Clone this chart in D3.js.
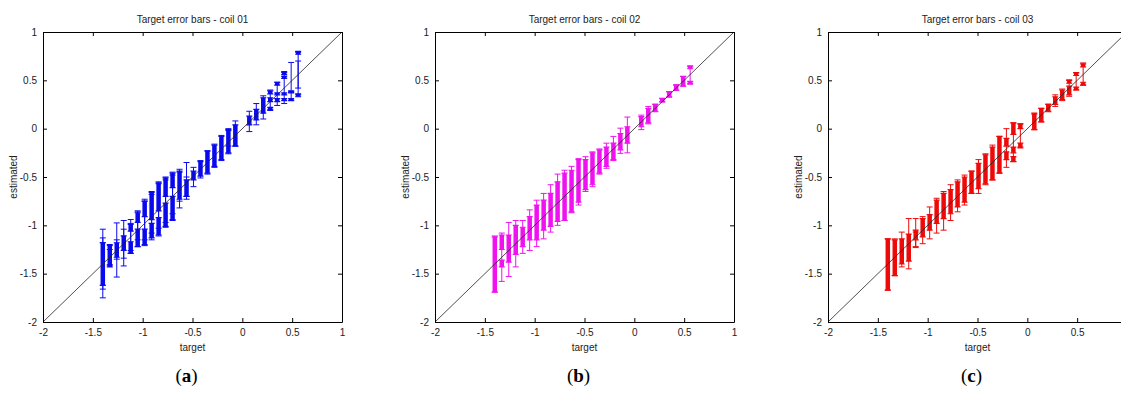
<!DOCTYPE html>
<html>
<head>
<meta charset="utf-8">
<script src="https://cdn.jsdelivr.net/npm/d3@7"></script>
<style>
    body { margin: 0; background: #fff; }
    svg { display: block; }
    .tick text, .axis-label, .panel-title {
        font-family: "Liberation Sans Narrow", "Liberation Sans", Arial, sans-serif;
        fill: #222;
    }
    .tick text { font-size: 10px; }
    .caption { font-family: "Liberation Serif", "DejaVu Serif", serif; font-size: 19px; fill: #000; }
</style>
</head>
<body>
<div id="chart"></div>
<script>
const titles = ["Target error bars - coil 01", "Target error bars - coil 02", "Target error bars - coil 03"];
const captions = ["a", "b", "c"];
const colors = ["#0a0aee", "#f012f0", "#ee0a0a"];
const ticks = [-2, -1.5, -1, -0.5, 0, 0.5, 1];

// bands: [target, low, high] — dense clusters of estimates
// bars:  [target, estimate, error]
const coil01Bands = [
    [-1.40, -1.62, -1.18], [-1.33, -1.43, -1.20], [-1.26, -1.33, -1.18], [-1.19, -1.26, -1.11],
    [-1.12, -1.06, -0.99], [-1.12, -1.29, -1.17], [-1.05, -0.97, -0.87], [-1.05, -1.22, -1.04],
    [-0.98, -0.91, -0.75], [-0.98, -1.20, -1.04], [-0.91, -0.94, -0.66], [-0.91, -1.13, -0.98],
    [-0.84, -0.85, -0.56], [-0.84, -1.10, -0.92], [-0.77, -0.70, -0.51], [-0.77, -1.01, -0.77],
    [-0.70, -0.61, -0.46], [-0.70, -0.94, -0.70], [-0.63, -0.73, -0.44], [-0.56, -0.70, -0.53],
    [-0.49, -0.53, -0.44], [-0.42, -0.49, -0.34], [-0.35, -0.46, -0.23], [-0.28, -0.39, -0.17],
    [-0.21, -0.32, -0.08], [-0.14, -0.25, -0.01], [-0.07, -0.18, 0.04], [0.07, 0.04, 0.13],
    [0.14, 0.09, 0.20], [0.21, 0.16, 0.32], [0.28, 0.19, 0.22], [0.28, 0.28, 0.32],
    [0.28, 0.36, 0.39], [0.35, 0.28, 0.31], [0.35, 0.35, 0.37], [0.35, 0.45, 0.48],
    [0.42, 0.29, 0.31], [0.42, 0.35, 0.37], [0.42, 0.52, 0.54], [0.42, 0.56, 0.59],
    [0.49, 0.29, 0.31], [0.49, 0.37, 0.39], [0.56, 0.33, 0.36], [0.56, 0.77, 0.80]
];
const coil01Bars = [
    [-1.40, -1.395, 0.355], [-1.40, -1.395, 0.265], [-1.40, -1.40, 0.22],
    [-1.33, -1.31, 0.10], [-1.33, -1.33, 0.08], [-1.26, -1.255, 0.28], [-1.26, -1.25, 0.10],
    [-1.19, -1.185, 0.235], [-1.19, -1.19, 0.15], [-1.12, -1.115, 0.175], [-1.12, -1.12, 0.14],
    [-1.05, -1.04, 0.18], [-1.05, -1.00, 0.15], [-0.98, -0.97, 0.24], [-0.98, -0.95, 0.20],
    [-0.91, -0.90, 0.25], [-0.91, -0.88, 0.20], [-0.84, -0.83, 0.28], [-0.84, -0.80, 0.23],
    [-0.77, -0.76, 0.26], [-0.77, -0.75, 0.22], [-0.70, -0.70, 0.25], [-0.70, -0.68, 0.20],
    [-0.63, -0.62, 0.20], [-0.63, -0.60, 0.15], [-0.56, -0.54, 0.19], [-0.56, -0.60, 0.10],
    [-0.49, -0.50, 0.10], [-0.42, -0.42, 0.09], [-0.35, -0.35, 0.12], [-0.28, -0.28, 0.12],
    [-0.21, -0.20, 0.13], [-0.14, -0.13, 0.13], [-0.14, -0.10, 0.08], [-0.07, -0.05, 0.13],
    [0.07, 0.075, 0.105], [0.14, 0.15, 0.11], [0.21, 0.22, 0.12], [0.28, 0.30, 0.10],
    [0.35, 0.36, 0.12], [0.42, 0.42, 0.16], [0.49, 0.53, 0.155], [0.49, 0.34, 0.045],
    [0.56, 0.57, 0.22], [0.56, 0.56, 0.14]
];

const coil02Bands = [
    [-1.40, -1.69, -1.12], [-1.33, -1.25, -1.10], [-1.33, -1.43, -1.36], [-1.26, -1.38, -1.10],
    [-1.19, -1.30, -1.00], [-1.12, -1.22, -1.02], [-1.05, -1.15, -0.91], [-0.98, -1.15, -0.79],
    [-0.91, -1.05, -0.74], [-0.84, -1.01, -0.67], [-0.77, -0.96, -0.55], [-0.70, -0.95, -0.46],
    [-0.63, -0.86, -0.43], [-0.56, -0.76, -0.32], [-0.49, -0.63, -0.32], [-0.42, -0.58, -0.25],
    [-0.35, -0.46, -0.22], [-0.28, -0.39, -0.19], [-0.21, -0.32, -0.15], [-0.14, -0.22, -0.05],
    [-0.07, -0.15, 0.02], [0.07, 0.02, 0.125], [0.14, 0.06, 0.21], [0.21, 0.18, 0.25],
    [0.28, 0.28, 0.31], [0.35, 0.33, 0.38], [0.42, 0.40, 0.45], [0.49, 0.44, 0.54],
    [0.56, 0.46, 0.49], [0.56, 0.62, 0.65]
];
const coil02Bars = [
    [-1.40, -1.40, 0.29], [-1.33, -1.33, 0.25], [-1.26, -1.25, 0.28], [-1.19, -1.19, 0.24],
    [-1.12, -1.12, 0.17], [-1.05, -1.05, 0.21], [-0.98, -0.98, 0.24], [-0.91, -0.905, 0.235],
    [-0.84, -0.825, 0.245], [-0.77, -0.735, 0.265], [-0.70, -0.69, 0.26], [-0.63, -0.63, 0.24],
    [-0.56, -0.55, 0.24], [-0.49, -0.47, 0.18], [-0.42, -0.42, 0.18], [-0.35, -0.34, 0.13],
    [-0.28, -0.28, 0.13], [-0.21, -0.205, 0.125], [-0.14, -0.125, 0.13], [-0.07, -0.065, 0.185],
    [0.07, 0.065, 0.075], [0.14, 0.14, 0.09], [0.21, 0.215, 0.04], [0.28, 0.295, 0.02],
    [0.35, 0.355, 0.03], [0.42, 0.425, 0.03], [0.49, 0.49, 0.05], [0.56, 0.555, 0.085]
];

const coil03Bands = [
    [-1.40, -1.67, -1.14], [-1.33, -1.52, -1.15], [-1.26, -1.40, -1.14], [-1.19, -1.37, -1.09],
    [-1.12, -1.15, -1.05], [-1.05, -1.12, -0.93], [-0.98, -1.05, -0.89], [-0.91, -0.98, -0.74],
    [-0.84, -0.93, -0.67], [-0.77, -0.88, -0.63], [-0.70, -0.81, -0.55], [-0.63, -0.76, -0.50],
    [-0.56, -0.67, -0.44], [-0.49, -0.62, -0.36], [-0.42, -0.57, -0.27], [-0.35, -0.53, -0.19],
    [-0.28, -0.46, -0.08], [-0.21, -0.18, -0.10], [-0.21, -0.32, -0.24], [-0.14, -0.06, 0.06],
    [-0.14, -0.25, -0.19], [-0.14, -0.34, -0.29], [-0.07, 0.00, 0.05], [-0.07, -0.20, -0.15],
    [0.07, -0.01, 0.16], [0.14, 0.07, 0.21], [0.21, 0.18, 0.25], [0.28, 0.25, 0.33],
    [0.35, 0.30, 0.40], [0.42, 0.35, 0.44], [0.42, 0.47, 0.50], [0.49, 0.40, 0.43],
    [0.49, 0.55, 0.58], [0.56, 0.45, 0.48], [0.56, 0.64, 0.67]
];
const coil03Bars = [
    [-1.40, -1.405, 0.265], [-1.33, -1.33, 0.19], [-1.26, -1.25, 0.18], [-1.19, -1.19, 0.26],
    [-1.12, -1.075, 0.145], [-1.12, -1.15, 0.08], [-1.05, -1.05, 0.14], [-0.98, -0.975, 0.165],
    [-0.91, -0.90, 0.18], [-0.84, -0.85, 0.20], [-0.77, -0.765, 0.185], [-0.70, -0.695, 0.165],
    [-0.63, -0.635, 0.155], [-0.56, -0.555, 0.115], [-0.49, -0.495, 0.175], [-0.42, -0.42, 0.16],
    [-0.35, -0.35, 0.18], [-0.28, -0.27, 0.19], [-0.21, -0.20, 0.20], [-0.14, -0.14, 0.20],
    [-0.07, -0.07, 0.12], [0.07, 0.07, 0.08], [0.14, 0.14, 0.07], [0.21, 0.215, 0.04],
    [0.28, 0.29, 0.06], [0.35, 0.35, 0.06], [0.42, 0.42, 0.085], [0.49, 0.49, 0.09],
    [0.56, 0.565, 0.115]
];

const panels = [
    { bands: coil01Bands, bars: coil01Bars },
    { bands: coil02Bands, bars: coil02Bars },
    { bands: coil03Bands, bars: coil03Bars }
];

const width = 1121;
const height = 399;
const panelLeft = [43, 435, 828];
const plotTop = 32;
const plotW = 299;
const plotH = 290;
const bandW = 4.5;
const capW = 6;

const svg = d3.select("#chart").append("svg")
    .attr("width", width)
    .attr("height", height);

const x = d3.scaleLinear().domain([-2, 1]).range([0, plotW]);
const y = d3.scaleLinear().domain([-2, 1]).range([plotH, 0]);
const fmt = d => String(d);

panels.forEach((p, i) => {
    const color = colors[i];
    const g = svg.append("g").attr("transform", `translate(${panelLeft[i]},${plotTop})`);

    // bands of stacked estimates
    const bands = g.append("g");
    bands.selectAll("rect")
        .data(p.bands)
        .join("rect")
        .attr("x", d => x(d[0]) - bandW / 2)
        .attr("y", d => y(Math.max(d[1], d[2])))
        .attr("width", bandW)
        .attr("height", d => Math.max(1.5, Math.abs(y(d[1]) - y(d[2]))))
        .attr("fill", color);
    bands.selectAll("path")
        .data(p.bands)
        .join("path")
        .attr("d", d => {
            const cx = x(d[0]);
            return `M${cx - capW / 2},${y(d[1])}h${capW}M${cx - capW / 2},${y(d[2])}h${capW}`;
        })
        .attr("stroke", color)
        .attr("stroke-width", 1.2)
        .attr("fill", "none");

    // error bars
    g.append("g").selectAll("path")
        .data(p.bars)
        .join("path")
        .attr("d", d => {
            const cx = x(d[0]);
            const y1 = y(d[1] + d[2]);
            const y2 = y(d[1] - d[2]);
            return `M${cx},${y1}V${y2}M${cx - capW / 2},${y1}h${capW}M${cx - capW / 2},${y2}h${capW}`;
        })
        .attr("stroke", color)
        .attr("stroke-width", 1)
        .attr("fill", "none");

    // diagonal
    g.append("line")
        .attr("x1", x(-2)).attr("y1", y(-2))
        .attr("x2", x(1)).attr("y2", y(1))
        .attr("stroke", "#222")
        .attr("stroke-width", 0.8);

    // box axes, ticks inward
    g.append("g").attr("transform", `translate(0,${plotH})`)
        .call(d3.axisBottom(x).tickValues(ticks).tickFormat(fmt).tickSize(-4).tickSizeOuter(0).tickPadding(7));
    g.append("g")
        .call(d3.axisLeft(y).tickValues(ticks).tickFormat(fmt).tickSize(-4).tickSizeOuter(0).tickPadding(6));
    g.append("g")
        .call(d3.axisTop(x).tickValues(ticks).tickFormat("").tickSize(-4).tickSizeOuter(0));
    g.append("g").attr("transform", `translate(${plotW},0)`)
        .call(d3.axisRight(y).tickValues(ticks).tickFormat("").tickSize(-4).tickSizeOuter(0));
    g.selectAll(".domain").attr("stroke", "#000");
    g.selectAll(".tick line").attr("stroke", "#000");
    g.selectAll(".tick text").attr("font-family", null).attr("font-size", null);

    g.append("text")
        .attr("class", "panel-title")
        .attr("x", plotW / 2)
        .attr("y", -9)
        .attr("text-anchor", "middle")
        .attr("font-size", 10)
        .text(titles[i]);

    g.append("text")
        .attr("class", "axis-label")
        .attr("x", plotW / 2)
        .attr("y", plotH + 29)
        .attr("text-anchor", "middle")
        .attr("font-size", 10)
        .text("target");

    g.append("text")
        .attr("class", "axis-label")
        .attr("transform", `translate(-26,${plotH / 2}) rotate(-90)`)
        .attr("text-anchor", "middle")
        .attr("font-size", 10)
        .text("estimated");

    const cap = svg.append("text")
        .attr("class", "caption")
        .attr("x", panelLeft[i] + plotW / 2 - 6)
        .attr("y", 382)
        .attr("text-anchor", "middle");
    cap.append("tspan").text("(");
    cap.append("tspan").attr("font-weight", "bold").text(captions[i]);
    cap.append("tspan").text(")");
});
</script>
</body>
</html>
